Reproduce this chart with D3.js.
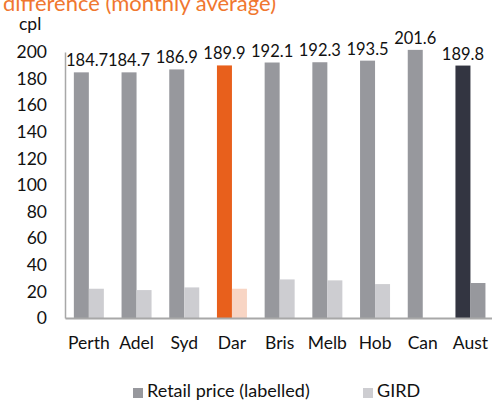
<!DOCTYPE html>
<html><head><meta charset="utf-8">
<script src="https://cdn.jsdelivr.net/npm/d3@7"></script>
<style>body{margin:0;background:#fff}svg{display:block;font-family:Lato,"Open Sans",sans-serif}</style>
</head><body><svg id="c" width="492" height="401"></svg>
<script>
const categories = ["Perth","Adel","Syd","Dar","Bris","Melb","Hob","Can","Aust"];
const retail = [184.7,184.7,186.9,189.9,192.1,192.3,193.5,201.6,189.8];
const gird = [22,21,23,22,29,28.3,25.5,null,26.3];
const yTicks = [0,20,40,60,80,100,120,140,160,180,200];
const retailColors = ["#97989d","#97989d","#97989d","#e8601c","#97989d","#97989d","#97989d","#97989d","#333541"];
const girdColors = ["#cdcdd1","#cdcdd1","#cdcdd1","#f8d5c4","#cdcdd1","#cdcdd1","#cdcdd1","#cdcdd1","#97989d"];

const svg = d3.select("#c");
const x = d3.scaleBand().domain(categories).range([65, 65+9*47.7]);
const y = d3.scaleLinear().domain([0,200]).range([318,52]);
const bw = 15;

svg.append("text").attr("x",3).attr("y",11).attr("fill","#f0772f").attr("font-size",22).text("difference (monthly average)");
svg.append("text").attr("x",19).attr("y",30).attr("fill","#111").attr("font-size",17.5).text("cpl");

const yAxis = svg.append("g").attr("transform","translate(65,0)")
  .call(d3.axisLeft(y).tickValues(yTicks).tickSize(0).tickPadding(18));
yAxis.select(".domain").attr("stroke","#a8a8a8").attr("stroke-width",1.5);
yAxis.selectAll("text").attr("font-size",17.5).attr("fill","#111").attr("font-family","Lato");

const g = svg.append("g");
g.selectAll(".r").data(categories).join("rect")
  .attr("x",d=>x(d)+x.bandwidth()/2-bw).attr("width",bw)
  .attr("y",(d,i)=>y(retail[i])).attr("height",(d,i)=>y(0)-y(retail[i]))
  .attr("fill",(d,i)=>retailColors[i]);
g.selectAll(".g").data(categories.filter((d,i)=>gird[i]!=null)).join("rect")
  .attr("x",d=>x(d)+x.bandwidth()/2).attr("width",bw)
  .attr("y",d=>y(gird[categories.indexOf(d)])).attr("height",d=>y(0)-y(gird[categories.indexOf(d)]))
  .attr("fill",d=>girdColors[categories.indexOf(d)]);
g.selectAll(".l").data(categories).join("text")
  .attr("x",d=>x(d)+x.bandwidth()/2-bw/2).attr("y",(d,i)=>y(retail[i])-6)
  .attr("text-anchor","middle").attr("font-size",16.5).attr("fill","#111")
  .text((d,i)=>retail[i].toFixed(1))
  .each(function(){
    const b=this.getBBox();
    if(b.x<66){ d3.select(this).attr("x",+d3.select(this).attr("x")+(66-b.x)); }
  });

const xAxis = svg.append("g").attr("transform","translate(0,318)")
  .call(d3.axisBottom(x).tickSize(0).tickPadding(19));
xAxis.select(".domain").attr("stroke","#a8a8a8").attr("stroke-width",2);
xAxis.selectAll("text").attr("font-size",17.5).attr("fill","#111").attr("font-family","Lato");

const legend = [["Retail price (labelled)","#97989d",133],["GIRD","#cdcdd1",363]];
legend.forEach(([t,c,lx])=>{
  svg.append("rect").attr("x",lx).attr("y",388).attr("width",10).attr("height",10).attr("fill",c);
  svg.append("text").attr("x",lx+14).attr("y",397).attr("font-size",18).attr("fill","#111").text(t);
});
</script></body></html>
